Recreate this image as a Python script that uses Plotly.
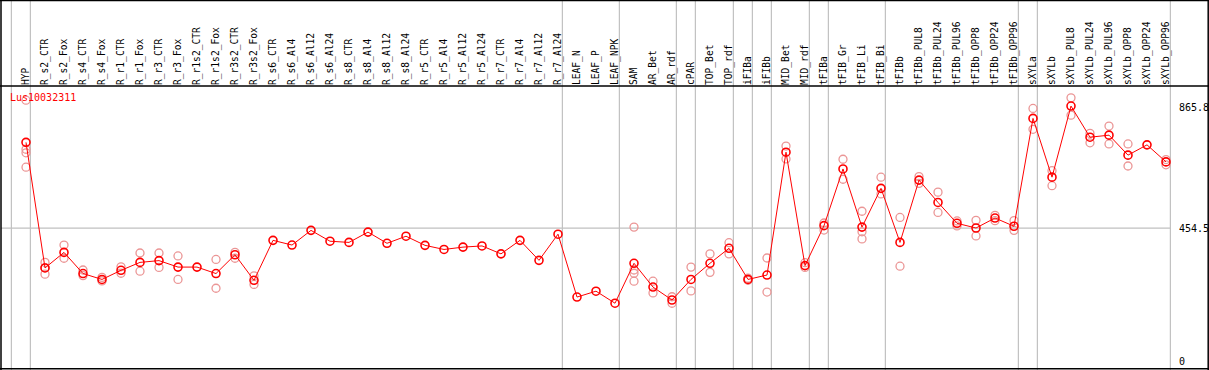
import plotly.graph_objects as go

# ---------------- data ----------------
gene_id = "Lus10032311"

categories = [
    "HYP", "R_s2_CTR", "R_s2_Fox", "R_s4_CTR", "R_s4_Fox", "R_r1_CTR", "R_r1_Fox",
    "R_r3_CTR", "R_r3_Fox", "R_r1s2_CTR", "R_r1s2_Fox", "R_r3s2_CTR", "R_r3s2_Fox",
    "R_s6_CTR", "R_s6_Al4", "R_s6_Al12", "R_s6_Al24", "R_s8_CTR", "R_s8_Al4",
    "R_s8_Al12", "R_s8_Al24", "R_r5_CTR", "R_r5_Al4", "R_r5_Al12", "R_r5_Al24",
    "R_r7_CTR", "R_r7_Al4", "R_r7_Al12", "R_r7_Al24", "LEAF_N", "LEAF_P", "LEAF_NPK",
    "SAM", "AR_Bet", "AR_rdf", "cPAR", "TOP_Bet", "TOP_rdf", "iFIBa", "iFIBb",
    "MID_Bet", "MID_rdf", "tFIBa", "tFIB_Gr", "tFIB_Li", "tFIB_Bi", "tFIBb",
    "tFIBb_PUL8", "tFIBb_PUL24", "tFIBb_PUL96", "tFIBb_OPP8", "tFIBb_OPP24",
    "tFIBb_OPP96", "sXYLa", "sXYLb", "sXYLb_PUL8", "sXYLb_PUL24", "sXYLb_PUL96",
    "sXYLb_OPP8", "sXYLb_OPP24", "sXYLb_OPP96",
]

mean_values = [
    746.5, 319, 372, 300, 280, 311, 338, 344, 322, 322, 300, 364, 277,
    413, 397, 447, 410, 406, 441, 403, 427, 396, 382, 390, 394,
    367, 413, 345, 434, 220, 240, 199,
    335, 254, 210, 280, 335, 386, 280, 295,
    713, 327, 463, 656, 458, 590, 406,
    618, 542, 471, 455, 489, 461,
    828, 628, 870, 764, 771, 703, 738, 680,
]

replicate_values = [
    [890, 723, 711, 662], [338, 320, 298], [397, 352], [312, 293], [287, 275],
    [323, 301], [370, 308], [370, 321], [360, 280], [], [348, 250], [372, 352],
    [292, 263],
    [], [], [], [], [], [], [], [], [], [], [], [], [], [], [], [], [], [], [],
    [458, 312, 301, 274], [274, 234], [221, 199], [322, 241], [367, 304],
    [405, 367], [284, 277], [353, 237],
    [734, 690], [337, 321], [472, 448], [689, 621], [512, 442, 418], [628, 571],
    [491, 325],
    [630, 607], [577, 508], [479, 462], [481, 428], [498, 480], [480, 447],
    [862, 791], [650, 599], [898, 839], [777, 745], [802, 741], [741, 666], [],
    [688, 670],
]

# group separators: index of first category of each new group
group_starts = [0, 1, 29, 32, 35, 36, 38, 39, 40, 42, 43, 46, 53, 54, 61]

y_tick_values = [0, 454.5, 865.8]
y_tick_labels = ["0", "454.5", "865.8"]
mid_line_value = 454.5

# ---------------- figure ----------------
W, H = 1209, 370
FONT = "DejaVu Sans Mono"

x_idx = list(range(len(categories)))

rep_x, rep_y = [], []
for i, reps in enumerate(replicate_values):
    for v in reps:
        rep_x.append(i)
        rep_y.append(v)

fig = go.Figure()
fig.add_trace(go.Scatter(
    x=rep_x, y=rep_y, mode="markers",
    marker=dict(symbol="circle-open", size=8, color="#eb9696",
                line=dict(width=1.3, color="#eb9696")),
    hoverinfo="skip", showlegend=False,
))
fig.add_trace(go.Scatter(
    x=x_idx, y=mean_values, mode="lines+markers",
    line=dict(color="#ff0000", width=1),
    marker=dict(symbol="circle-open", size=8, color="#ff0000",
                line=dict(width=1.6, color="#ff0000")),
    hoverinfo="skip", showlegend=False,
))

# pixel geometry
px_per_cat = 19.0
x0_px = 26.0
x_range = [-x0_px / px_per_cat, (W - x0_px) / px_per_cat]
y_top_px, y_bot_px = 86.0, 368.7
y_domain = [(H - y_bot_px) / H, (H - y_top_px) / H]
y_scale = (361.7 - 107.3) / 865.8
y_lo = -(y_bot_px - 361.7) / y_scale
y_hi = y_lo + (y_bot_px - y_top_px) / y_scale

sep_offset = -0.77
shapes = []
for g in group_starts:
    xs = g + sep_offset
    shapes.append(dict(type="line", xref="x", yref="paper", x0=xs, x1=xs,
                       y0=0, y1=1, line=dict(color="#c0c0c0", width=1.2), layer="below"))
last_sep = group_starts[-1] + sep_offset
shapes.append(dict(type="line", xref="paper", yref="y", x0=1 / W,
                   x1=(x0_px + last_sep * px_per_cat) / W,
                   y0=mid_line_value, y1=mid_line_value,
                   line=dict(color="#c0c0c0", width=1.2), layer="below"))
# black frame
blk = dict(color="black", width=1.5)
shapes += [
    dict(type="line", xref="paper", yref="paper", x0=1 / W, x1=1 / W, y0=0, y1=1, line=blk),
    dict(type="line", xref="paper", yref="paper", x0=1 - 0.8 / W, x1=1 - 0.8 / W, y0=0, y1=1, line=blk),
    dict(type="line", xref="paper", yref="paper", x0=0, x1=1, y0=1 - 0.6 / H, y1=1 - 0.6 / H, line=blk),
    dict(type="line", xref="paper", yref="paper", x0=0, x1=1, y0=1.2 / H, y1=1.2 / H, line=blk),
    dict(type="line", xref="paper", yref="paper", x0=0, x1=1,
         y0=(H - y_top_px) / H, y1=(H - y_top_px) / H, line=blk),
]

annotations = [
    dict(text=gene_id, xref="paper", yref="paper", x=8 / W, y=(H - 97.5) / H,
         xanchor="left", yanchor="middle", showarrow=False,
         font=dict(family=FONT, size=10, color="#ff0000")),
]
for v, t in zip(y_tick_values, y_tick_labels):
    annotations.append(dict(text=t, xref="paper", yref="y", x=1177 / W, y=v,
                            xanchor="left", yanchor="middle", showarrow=False,
                            font=dict(family=FONT, size=10, color="black")))

fig.update_layout(
    width=W, height=H,
    margin=dict(l=0, r=0, t=0, b=0, pad=0),
    paper_bgcolor="white", plot_bgcolor="white",
    showlegend=False, hovermode=False,
    xaxis=dict(range=x_range, side="top", tickmode="array", tickvals=x_idx,
               ticktext=categories, tickangle=-90, ticks="", showgrid=False,
               zeroline=False, showline=False, anchor="y", automargin=False,
               tickfont=dict(family=FONT, size=9.6, color="black")),
    yaxis=dict(range=[y_lo, y_hi], domain=y_domain, showticklabels=False,
               ticks="", showgrid=False, zeroline=False, showline=False,
               automargin=False),
    shapes=shapes, annotations=annotations,
)

fig.write_html(
    "out.html",
    config={"displayModeBar": False},
    post_script="document.body.style.margin='0';document.body.style.padding='0';"
                "document.body.style.overflow='hidden';",
)
